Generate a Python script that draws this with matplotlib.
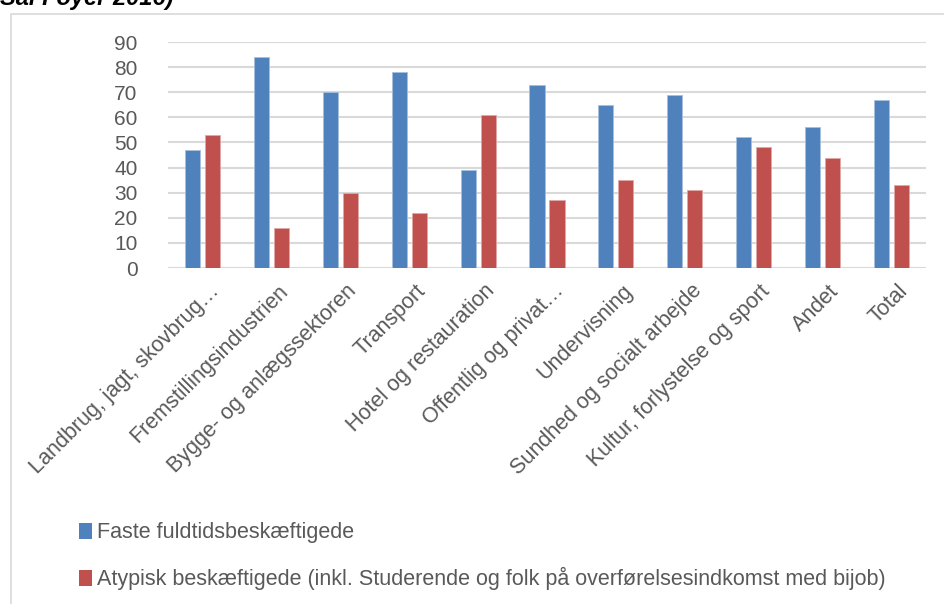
import matplotlib
matplotlib.use("Agg")
import matplotlib.pyplot as plt
import matplotlib.transforms as mtrans
import numpy as np
from matplotlib.patches import Rectangle, Patch

# data
categories = ["Landbrug, jagt, skovbrug…", "Fremstillingsindustrien", "Bygge- og anlægssektoren",
              "Transport", "Hotel og restauration", "Offentlig og privat…", "Undervisning",
              "Sundhed og socialt arbejde", "Kultur, forlystelse og sport", "Andet", "Total"]
faste = [47, 84, 70, 78, 39, 73, 65, 69, 52, 56, 67]
atypisk = [53, 16, 30, 22, 61, 27, 35, 31, 48, 44, 33]
series_names = ["Faste fuldtidsbeskæftigede",
                "Atypisk beskæftigede (inkl. Studerende og folk på overførelsesindkomst med bijob)"]

plt.rcParams['font.family'] = ['Liberation Sans', 'DejaVu Sans']
blue = "#4F81BD"
red = "#C0504D"
txt = "#595959"

fig = plt.figure(figsize=(9.44, 6.04), dpi=100)
ax = fig.add_axes([168/944, 1-268/604, (926-168)/944, (268-42)/604])

x = np.arange(len(categories))
w = 0.22
ax.bar(x - 0.145, faste, w, color=blue, edgecolor="#A7C0DE", linewidth=0.6, zorder=3)
ax.bar(x + 0.145, atypisk, w, color=red, edgecolor="#DFA8A6", linewidth=0.6, zorder=3)

ax.set_xlim(-0.5, len(categories) - 0.5)
ax.set_ylim(0, 90)
ax.set_yticks(range(0, 91, 10))
ax.set_xticks(x)
ax.set_xticklabels(categories, rotation=45, ha='right', rotation_mode='anchor', fontsize=15.5)
ax.tick_params(axis='both', length=0, colors=txt)
ax.tick_params(axis='y', pad=22, labelsize=15)
ax.tick_params(axis='x', pad=9)
shift = mtrans.ScaledTranslation(6/100, 0, fig.dpi_scale_trans)
for lab in ax.get_xticklabels():
    lab.set_transform(lab.get_transform() + shift)
ax.grid(axis='y', color="#D9D9D9", linewidth=1.5, zorder=0)
for s in ax.spines.values():
    s.set_visible(False)

# chart frame
fig.patches.append(Rectangle((11/944, -0.01), 1.0, 1-14/604 + 0.01, transform=fig.transFigure,
                             fill=False, edgecolor="#D9D9D9", linewidth=1.2))

# cut-off heading above the chart
fig.text(0.0, 1-5/604, "Sal Foyer 2016)", fontsize=17, fontweight='bold', style='italic',
         va='baseline', ha='left', color='black')

handles = [Patch(facecolor=blue), Patch(facecolor=red)]
fig.legend(handles, series_names, loc='upper left', bbox_to_anchor=(60/944, 1-503/604),
           frameon=False, fontsize=15.5, labelcolor=txt, handlelength=0.6, handleheight=0.75,
           handletextpad=0.2, labelspacing=1.1)

fig.savefig("out.png", dpi=100)
